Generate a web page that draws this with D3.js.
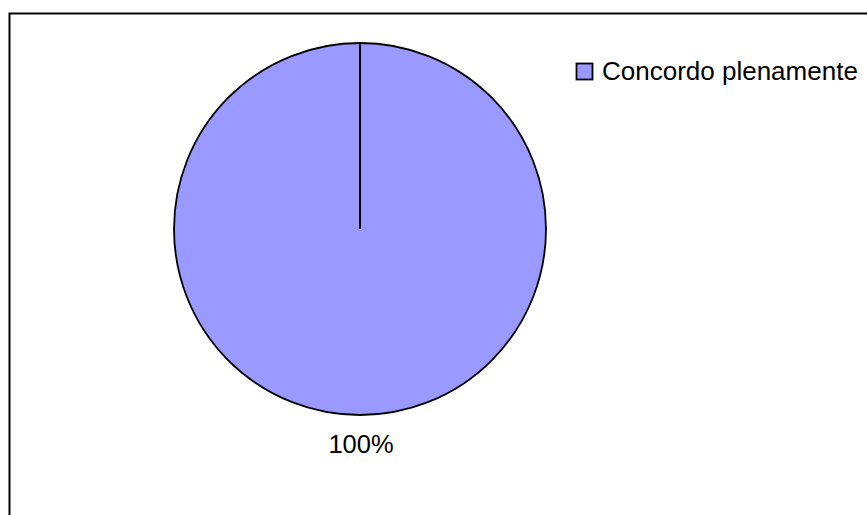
<!DOCTYPE html>
<html>
<head>
<meta charset="utf-8">
<script src="https://cdn.jsdelivr.net/npm/d3@7"></script>
<style>
  html, body { margin: 0; padding: 0; background: #ffffff; }
  svg { display: block; }
</style>
</head>
<body>
<svg id="chart" width="867" height="515"></svg>
<script>
// Response categories and their counts
const categories = ["Concordo plenamente"];
const values = [1];
const percentLabels = ["100%"];
const colors = ["#9999FF"];

const svg = d3.select("#chart");
const W = 867, H = 515;
const font = "'Liberation Sans', Arial, sans-serif";

// Chart area frame (runs past the right and bottom edges)
svg.append("rect")
  .attr("x", 9.5).attr("y", 13.5)
  .attr("width", W + 20).attr("height", H + 20)
  .attr("fill", "#ffffff")
  .attr("stroke", "#000000")
  .attr("stroke-width", 2);

const cx = 360, cy = 229, radius = 186;

const pie = d3.pie().sort(null).value(d => d);
const arcs = pie(values);
const arc = d3.arc().innerRadius(0).outerRadius(radius);

const g = svg.append("g").attr("transform", `translate(${cx},${cy})`);

g.selectAll("path.slice")
  .data(arcs)
  .join("path")
  .attr("class", "slice")
  .attr("d", arc)
  .attr("fill", (d, i) => colors[i])
  .attr("stroke", "#000000")
  .attr("stroke-width", 1.8);

// Slice edge from the centre to the start angle
g.selectAll("line.edge")
  .data(arcs)
  .join("line")
  .attr("class", "edge")
  .attr("x1", 0).attr("y1", 0)
  .attr("x2", d => radius * Math.sin(d.startAngle))
  .attr("y2", d => -radius * Math.cos(d.startAngle))
  .attr("stroke", "#000000")
  .attr("stroke-width", 2);

// Percentage labels outside the pie, at the slice mid-angle (bottom for a full circle)
const labelR = radius + 30;
g.selectAll("text.pct")
  .data(arcs)
  .join("text")
  .attr("class", "pct")
  .attr("x", d => {
    const a = (d.endAngle - d.startAngle) >= 2 * Math.PI - 1e-6 ? Math.PI : (d.startAngle + d.endAngle) / 2;
    return labelR * Math.sin(a) + 1;
  })
  .attr("y", d => {
    const a = (d.endAngle - d.startAngle) >= 2 * Math.PI - 1e-6 ? Math.PI : (d.startAngle + d.endAngle) / 2;
    return -labelR * Math.cos(a) + 8;
  })
  .attr("text-anchor", "middle")
  .attr("font-family", font)
  .attr("font-size", "25.5px")
  .attr("fill", "#000000")
  .text((d, i) => percentLabels[i]);

// Legend
const legend = svg.append("g").attr("transform", "translate(576,63)");
const item = legend.selectAll("g.item")
  .data(categories)
  .join("g")
  .attr("class", "item")
  .attr("transform", (d, i) => `translate(0,${i * 30})`);

item.append("rect")
  .attr("x", 0.5).attr("y", 0.5)
  .attr("width", 16).attr("height", 16)
  .attr("fill", (d, i) => colors[i])
  .attr("stroke", "#000000")
  .attr("stroke-width", 1.8);

item.append("text")
  .attr("x", 26).attr("y", 16.5)
  .attr("font-family", font)
  .attr("font-size", "26px")
  .attr("fill", "#000000")
  .text(d => d);
</script>
</body>
</html>
